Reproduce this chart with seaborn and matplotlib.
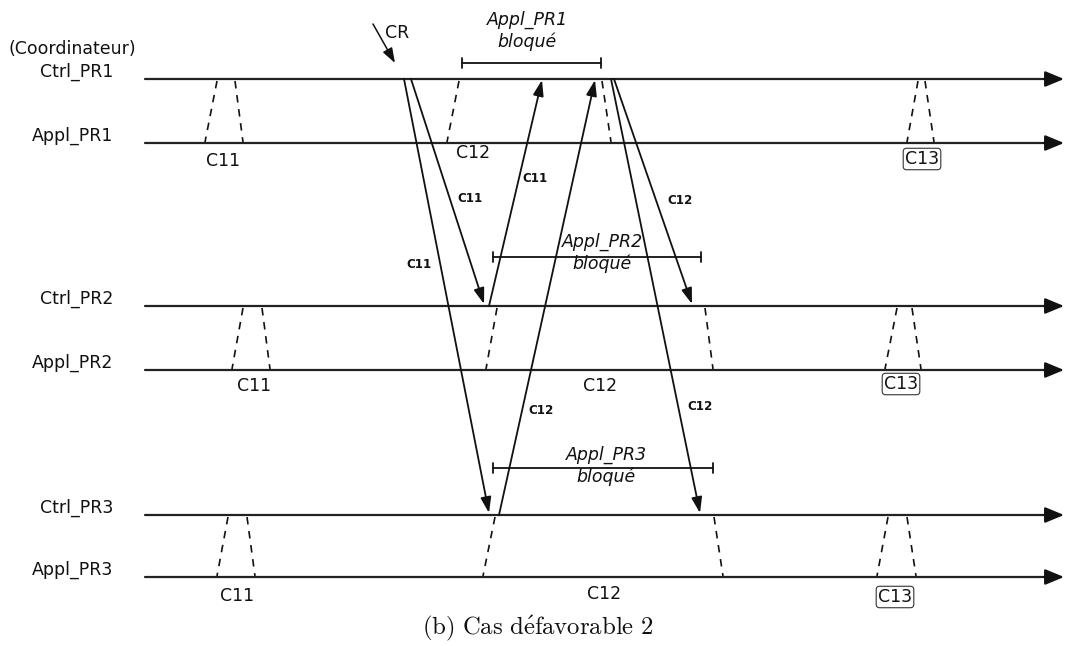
import numpy as np
import pandas as pd
import seaborn as sns
import matplotlib.pyplot as plt

sns.set_theme(style="white")
plt.rcParams['font.family'] = ['DejaVu Sans']
plt.rcParams['mathtext.fontset'] = 'cm'

# lanes (process lines), y level in picture units
lanes = ["Ctrl_PR1", "Appl_PR1", "Ctrl_PR2", "Appl_PR2", "Ctrl_PR3", "Appl_PR3"]
lane_y = [79, 143, 306, 370, 515, 577]
lane_x0, lane_x1 = 145, 1064

# checkpoints C11, C12, C13 for each process PR1..PR3
ckpt_names = ["C11", "C12", "C13"]
ckpt_ctrl_left = [[217, 459, 918], [243, 497, 897], [228, 495, 888]]
ckpt_ctrl_right = [[235, 602, 925], [262, 705, 912], [247, 714, 907]]
ckpt_appl_left = [[205, 447, 907], [232, 486, 885], [217, 483, 877]]
ckpt_appl_right = [[243, 611, 934], [270, 713, 921], [255, 723, 916]]
ckpt_label_x = [[223, 473, 922], [254, 600, 901], [237, 604, 895]]
ckpt_label_y = [[161, 153, 159], [386, 386, 384], [596, 594, 597]]

# messages between controllers
msg_label = ["C11", "C11", "C11", "C12", "C12", "C12"]
msg_src = [0, 0, 2, 4, 0, 0]
msg_dst = [4, 2, 0, 0, 2, 4]
msg_send_x = [404, 411, 489, 499, 614, 611]
msg_recv_x = [489, 484, 542, 595, 692, 700]
msg_label_x = [419, 470, 535, 541, 680, 700]
msg_label_y = [264, 199, 178, 411, 200, 407]

# blocked periods
blocked_label = ["Appl_PR1", "Appl_PR2", "Appl_PR3"]
blocked_start = [462, 493, 493]
blocked_end = [601, 701, 713]
blocked_bar_y = [63, 257, 468]
blocked_text_x = [527, 602, 606]
blocked_text_y = [25, 247, 460]

ink = '#111111'
fs = 12.5

fig = plt.figure(figsize=(10.65, 6.46), dpi=100)
ax = fig.add_axes([0, 0, 1, 1])

# timelines
tl = pd.DataFrame({
    'x': [lane_x0, lane_x1 - 10] * len(lanes),
    'y': np.repeat(lane_y, 2),
    'lane': np.repeat(lanes, 2),
})
sns.lineplot(data=tl, x='x', y='y', units='lane', estimator=None,
             color='#222222', lw=1.6, ax=ax, legend=False)
for i, y in enumerate(lane_y):
    ax.annotate('', xy=(lane_x1, y), xytext=(lane_x1 - 20, y),
                annotation_clip=False,
                arrowprops=dict(arrowstyle='-|>,head_length=0.82,head_width=0.34',
                                mutation_scale=14, color=ink, lw=1.6,
                                shrinkA=0, shrinkB=0))
    ax.text(113, y - 2, lanes[i], ha='right', va='baseline', fontsize=fs, color=ink)
ax.text(72, 54, "(Coordinateur)", ha='center', va='baseline', fontsize=fs, color=ink)

# checkpoints (dashed trapezoids)
for p in range(3):
    yt, yb = lane_y[2 * p], lane_y[2 * p + 1]
    for c in range(3):
        ax.plot([ckpt_ctrl_left[p][c], ckpt_appl_left[p][c]], [yt + 2, yb - 1],
                ls=(0, (4.5, 4)), color=ink, lw=1.2)
        ax.plot([ckpt_ctrl_right[p][c], ckpt_appl_right[p][c]], [yt + 2, yb - 1],
                ls=(0, (4.5, 4)), color=ink, lw=1.2)
        box = None
        if ckpt_names[c] == "C13":
            box = dict(boxstyle='round,pad=0.1,rounding_size=0.2', fc='white',
                       ec='#333333', lw=0.8)
        ax.text(ckpt_label_x[p][c], ckpt_label_y[p][c], ckpt_names[c], ha='center',
                va='center', fontsize=fs, color=ink, bbox=box)

# messages
for m in range(len(msg_label)):
    y0 = lane_y[msg_src[m]]
    y1 = lane_y[msg_dst[m]]
    d = 2 if y1 > y0 else -1
    ax.annotate('', xy=(msg_recv_x[m], y1 - d), xytext=(msg_send_x[m], y0),
                arrowprops=dict(arrowstyle='-|>,head_length=0.95,head_width=0.32',
                                mutation_scale=10, color=ink, lw=1.3,
                                shrinkA=0, shrinkB=0))
    ax.text(msg_label_x[m], msg_label_y[m], msg_label[m], ha='center', va='center',
            fontsize=8.6, fontweight='bold', color=ink)

# checkpoint request
ax.annotate('', xy=(395, 63), xytext=(373, 24),
            arrowprops=dict(arrowstyle='-|>,head_length=1.0,head_width=0.35',
                            mutation_scale=9, color=ink, lw=1.1,
                            shrinkA=0, shrinkB=0))
ax.text(385, 33, "CR", ha='left', va='center', fontsize=fs, color=ink)

# blocked intervals
for b in range(3):
    yb = blocked_bar_y[b]
    ax.plot([blocked_start[b], blocked_end[b]], [yb, yb], color=ink, lw=1.3)
    for xe in (blocked_start[b], blocked_end[b]):
        ax.plot([xe, xe], [yb - 5, yb + 5], color=ink, lw=1.3)
    ax.text(blocked_text_x[b], blocked_text_y[b], blocked_label[b], ha='center',
            va='baseline', fontsize=fs, style='italic', color=ink)
    ax.text(blocked_text_x[b], blocked_text_y[b] + 22, "bloqué", ha='center',
            va='baseline', fontsize=fs, style='italic', color=ink)

ax.text(538, 628, r"$\mathrm{(b)\ Cas\ d\acute{e}favorable\ 2}$", ha='center',
        va='center', fontsize=17.8, color=ink)

ax.set_xlim(0, 1065)
ax.set_ylim(646, 0)
ax.axis('off')
fig.savefig("out.png", dpi=100)
